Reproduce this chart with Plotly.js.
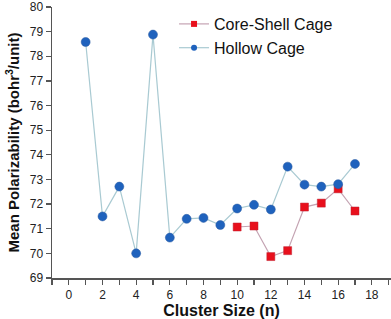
<!DOCTYPE html>
<html>
<head>
<meta charset="utf-8">
<script src="https://cdn.plot.ly/plotly-3.0.1.min.js"></script>
<style>html,body{margin:0;padding:0;background:#fff;}#chart{width:391px;height:319px;}</style>
</head>
<body>
<div id="chart"></div>
<script>
const hollowSize = [1, 2, 3, 4, 5, 6, 7, 8, 9, 10, 11, 12, 13, 14, 15, 16, 17];
const hollowValues = [78.58, 71.5, 72.71, 70.0, 78.88, 70.64, 71.4, 71.44, 71.15, 71.82, 71.97, 71.78, 73.52, 72.79, 72.71, 72.81, 73.63];
const coreShellSize = [10, 11, 12, 13, 14, 15, 16, 17];
const coreShellValues = [71.07, 71.11, 69.87, 70.11, 71.88, 72.04, 72.62, 71.72];
const xTickValues = [0, 2, 4, 6, 8, 10, 12, 14, 16, 18];
const yTickValues = [69, 70, 71, 72, 73, 74, 75, 76, 77, 78, 79, 80];
const seriesNames = ['Core-Shell Cage', 'Hollow Cage'];

const font = 'Liberation Sans, Arial, sans-serif';
const csLine = {color: '#c4a3b2', width: 1.2};
const hLine = {color: '#a9cad2', width: 1.2};

const traces = [
  {
    x: coreShellSize, y: coreShellValues, name: seriesNames[0], showlegend: false,
    type: 'scatter', mode: 'lines+markers', line: csLine,
    marker: {symbol: 'square', size: 8, color: '#e8101c', line: {color: '#c02030', width: 0.5}}
  },
  {
    x: hollowSize, y: hollowValues, name: seriesNames[1], showlegend: false,
    type: 'scatter', mode: 'lines+markers', line: hLine,
    marker: {symbol: 'circle', size: 9, color: '#1f62bd', line: {color: '#2a5aa0', width: 0.5}}
  },
  {
    x: [null], y: [null], name: seriesNames[0], showlegend: true,
    type: 'scatter', mode: 'lines+markers', line: csLine,
    marker: {symbol: 'square', size: 6, color: '#e8101c'}
  },
  {
    x: [null], y: [null], name: seriesNames[1], showlegend: true,
    type: 'scatter', mode: 'lines+markers', line: hLine,
    marker: {symbol: 'circle', size: 6, color: '#1f62bd'}
  }
];

const layout = {
  width: 391, height: 319,
  margin: {l: 52, r: 0, t: 7, b: 41},
  paper_bgcolor: '#fff', plot_bgcolor: '#fff',
  showlegend: true,
  legend: {
    x: 0.36, y: 1.0, xanchor: 'left', yanchor: 'top',
    font: {family: font, size: 16, color: '#111'},
    bgcolor: 'rgba(0,0,0,0)', tracegroupgap: 0, itemsizing: 'trace'
  },
  xaxis: {
    range: [-1, 19.14], tickvals: xTickValues, ticktext: xTickValues.map(String),
    showgrid: false, zeroline: false,
    showline: true, linecolor: '#555', linewidth: 1.5,
    ticks: 'outside', ticklen: 5, tickcolor: '#555', tickwidth: 1.2,
    minor: {dtick: 1, tick0: 1, ticks: 'outside', ticklen: 5, tickcolor: '#555', tickwidth: 1.2, showgrid: false},
    tickfont: {family: font, size: 12, color: '#222'},
    title: {text: '<b>Cluster Size (n)</b>', font: {family: font, size: 16, color: '#111'}, standoff: 2}
  },
  yaxis: {
    range: [69, 80], tickvals: yTickValues,
    showgrid: false, zeroline: false,
    showline: true, linecolor: '#555', linewidth: 1.5,
    ticks: 'outside', ticklen: 5, tickcolor: '#555', tickwidth: 1.2,
    tickfont: {family: font, size: 12, color: '#222'},
    title: {text: '<b>Mean Polarizability (bohr<sup>3</sup>/unit)</b>', font: {family: font, size: 15, color: '#111'}, standoff: 6}
  }
};

Plotly.newPlot('chart', traces, layout, {displayModeBar: false, staticPlot: true});
</script>
</body>
</html>
